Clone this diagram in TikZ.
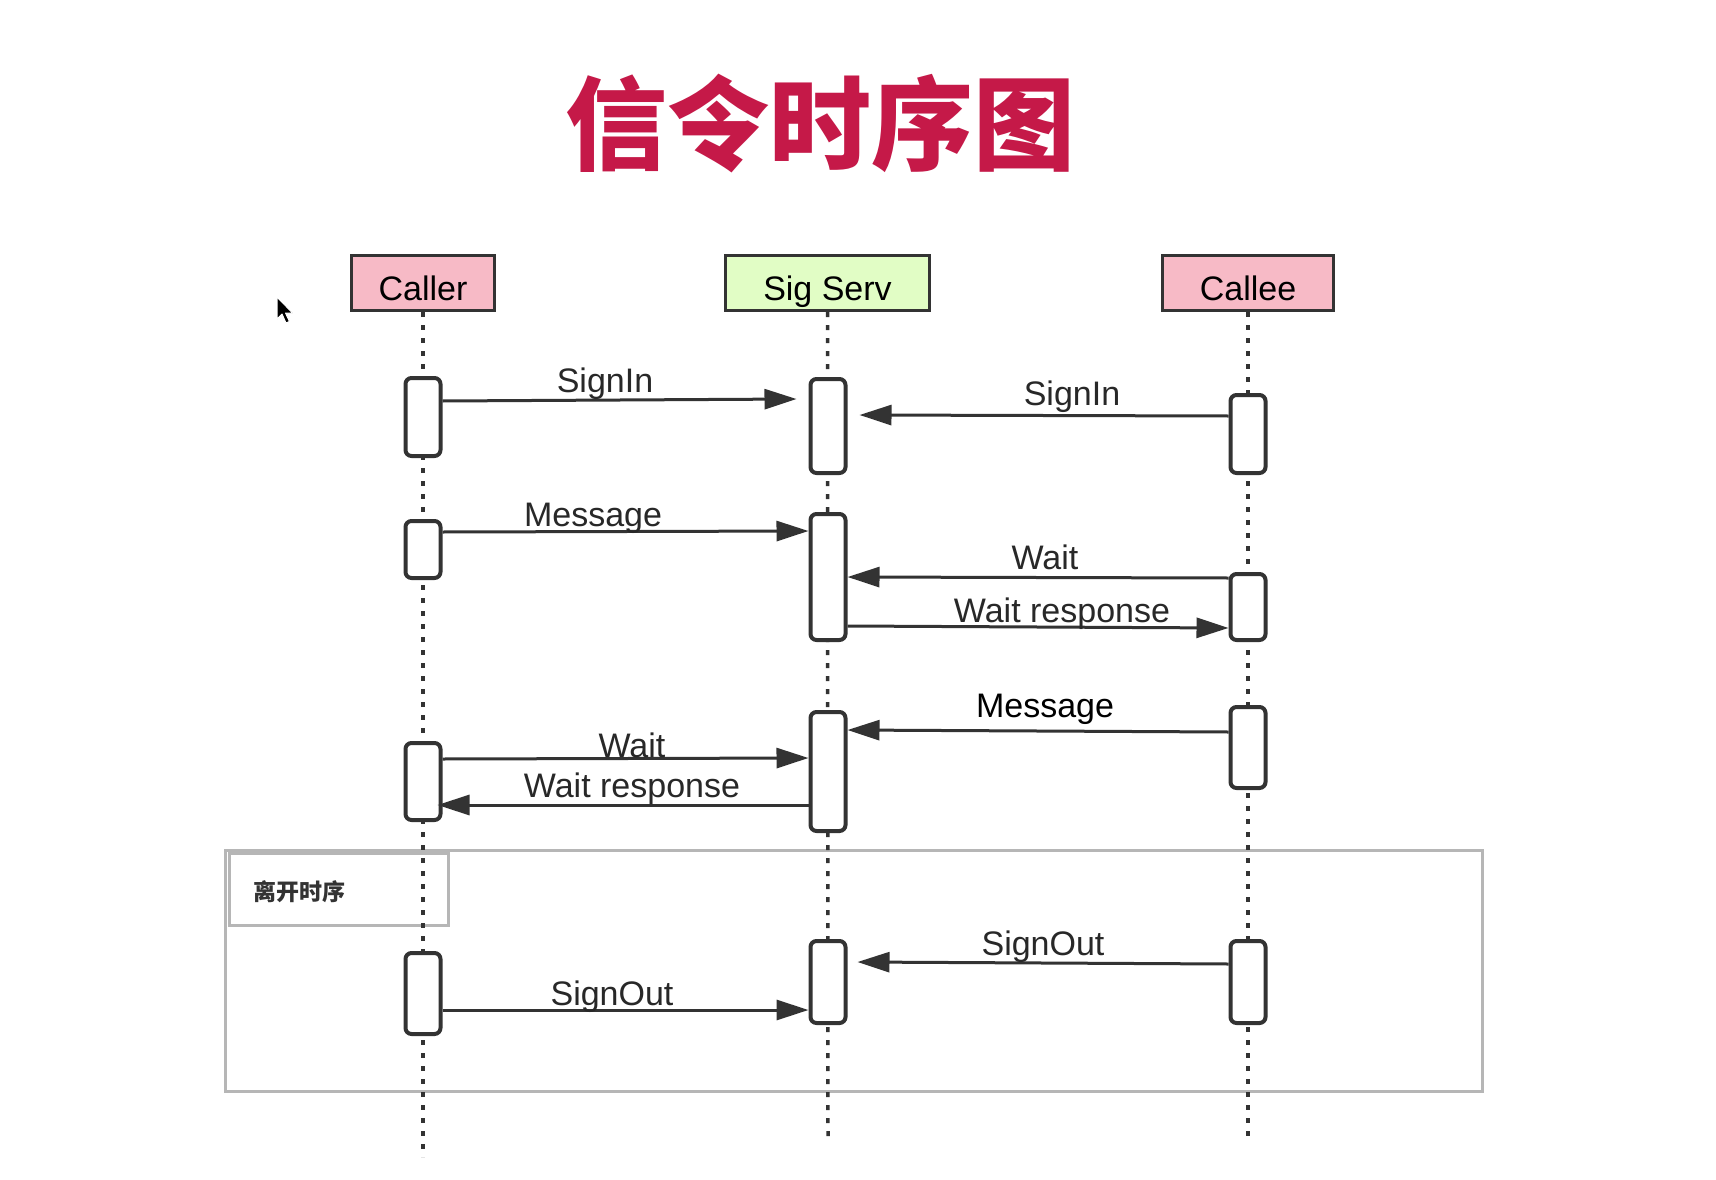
\documentclass[tikz,border=0pt]{standalone}
\usepackage{fontspec}
\setmainfont{Liberation Sans}
\newfontfamily\cjk{Noto Sans CJK SC}
\usetikzlibrary{arrows.meta,calc}
\definecolor{pinkc}{RGB}{247,186,198}
\definecolor{greenc}{RGB}{225,253,197}
\definecolor{inkc}{RGB}{51,51,51}
\definecolor{textc}{RGB}{40,40,40}
\definecolor{titlec}{RGB}{197,25,72}
\definecolor{framec}{RGB}{182,182,182}
\newcommand\actbox[4]{\node[actb, minimum height={#4-#3-4}] (#1) at (#2,{(#3+#4)/2}) {};}
\newcommand\hdrtext[1]{\raisebox{-5pt}[24pt][0pt]{#1}}
\tikzset{
  hdr/.style={draw=inkc, line width=3pt, inner sep=0pt, text=black, font=\fontsize{34}{40}\selectfont},
  actb/.style={draw=inkc, fill=white, line width=4pt, rounded corners=6pt, minimum width=35pt, inner sep=0pt},
  msg/.style={draw=inkc, line width=3pt, -{Triangle[length=32pt,width=20pt]}},
  lbl/.style={font=\fontsize{34}{40}\selectfont, text=textc, anchor=base, inner sep=0pt},
  life/.style={draw=inkc, line width=3.5pt, dash pattern=on 5pt off 8pt},
  frm/.style={draw=framec, line width=3pt}
}
\begin{document}
\begin{tikzpicture}[x=1pt,y=-1pt]
\useasboundingbox (0,0) rectangle (1716,1180);
\fill[white] (0,0) rectangle (1716,1180);

% title
\node[font=\cjk\bfseries\fontsize{102}{116}\selectfont, text=titlec, inner sep=0pt] (title) at (820,124) {信令时序图};

% frame
\draw[frm] (225,850) rectangle (1482,1091);
\draw[frm] (229,853) rectangle (448,925);
\node[font=\cjk\bfseries\fontsize{23}{28}\selectfont, text=inkc, anchor=west, inner sep=0pt] (frametitle) at (253,892) {离开时序};

% headers
\node[hdr, fill=pinkc, minimum width=143pt, minimum height=55pt] (caller) at (423,283) {\hdrtext{Caller}};
\node[hdr, fill=greenc, minimum width=204pt, minimum height=55pt] (sig) at (827.5,283) {\hdrtext{Sig Serv}};
\node[hdr, fill=pinkc, minimum width=171pt, minimum height=55pt] (callee) at (1248,283) {\hdrtext{Callee}};

% lifelines
\coordinate (callerend) at (423,1157);
\coordinate (sigend) at (828,1143);
\coordinate (calleeend) at (1248,1143);
\draw[life] (caller.south) -- (callerend);
\draw[life] (sig.south |- caller.south) -- (sigend);
\draw[life] (callee.south) -- (calleeend);

% activation boxes
\actbox{A1}{423}{376}{458}
\actbox{A2}{423}{519}{580}
\actbox{A3}{423}{741}{822}
\actbox{A4}{423}{951}{1036}
\actbox{S1}{828}{377}{475}
\actbox{S2}{828}{512}{642}
\actbox{S3}{828}{710}{833}
\actbox{S4}{828}{939}{1025}
\actbox{C1}{1248}{393}{475}
\actbox{C2}{1248}{572}{642}
\actbox{C3}{1248}{705}{790}
\actbox{C4}{1248}{939}{1025}

% messages
\draw[msg] (A1.east |- 0,401) -- ($(S1.west |- 0,399)+(-12,0)$);
\draw[msg] (C1.west |- 0,416) -- ($(S1.east |- 0,415)+(12,0)$);
\draw[msg] (A2.east |- 0,532) -- (S2.west |- 0,531);
\draw[msg] (C2.west |- 0,578) -- (S2.east |- 0,577);
\draw[msg] (S2.east |- 0,626) -- (C2.west |- 0,628);
\draw[msg] (C3.west |- 0,732) -- (S3.east |- 0,730);
\draw[msg] (A3.east |- 0,759) -- (S3.west |- 0,758);
\draw[msg] (S3.west |- 0,805) -- ($(A3.east |- 0,805)+(-5,0)$);
\draw[msg] (C4.west |- 0,964) -- ($(S4.east |- 0,962)+(10,0)$);
\draw[msg] (A4.east |- 0,1010) -- (S4.west |- 0,1010);

% labels
\node[lbl] (l1) at (605,392) {SignIn};
\node[lbl] (l2) at (1072,405) {SignIn};
\node[lbl] (l3) at (593,526) {Message};
\node[lbl] (l4) at (1045,569) {Wait};
\node[lbl] (l5) at (1062,622) {Wait response};
\node[lbl, text=black] (l6) at (1045,717) {Message};
\node[lbl] (l7) at (632,757) {Wait};
\node[lbl] (l8) at (632,797) {Wait response};
\node[lbl] (l9) at (1043,955) {SignOut};
\node[lbl] (l10) at (612,1005) {SignOut};

% mouse cursor
\fill[black, draw=white, line width=1pt, line join=round] (277,297) -- ++(0,22) -- ++(5,-5) -- ++(4,9) -- ++(3.5,-1.5) -- ++(-4,-8.5) -- ++(7,0) -- cycle;
\end{tikzpicture}
\end{document}
